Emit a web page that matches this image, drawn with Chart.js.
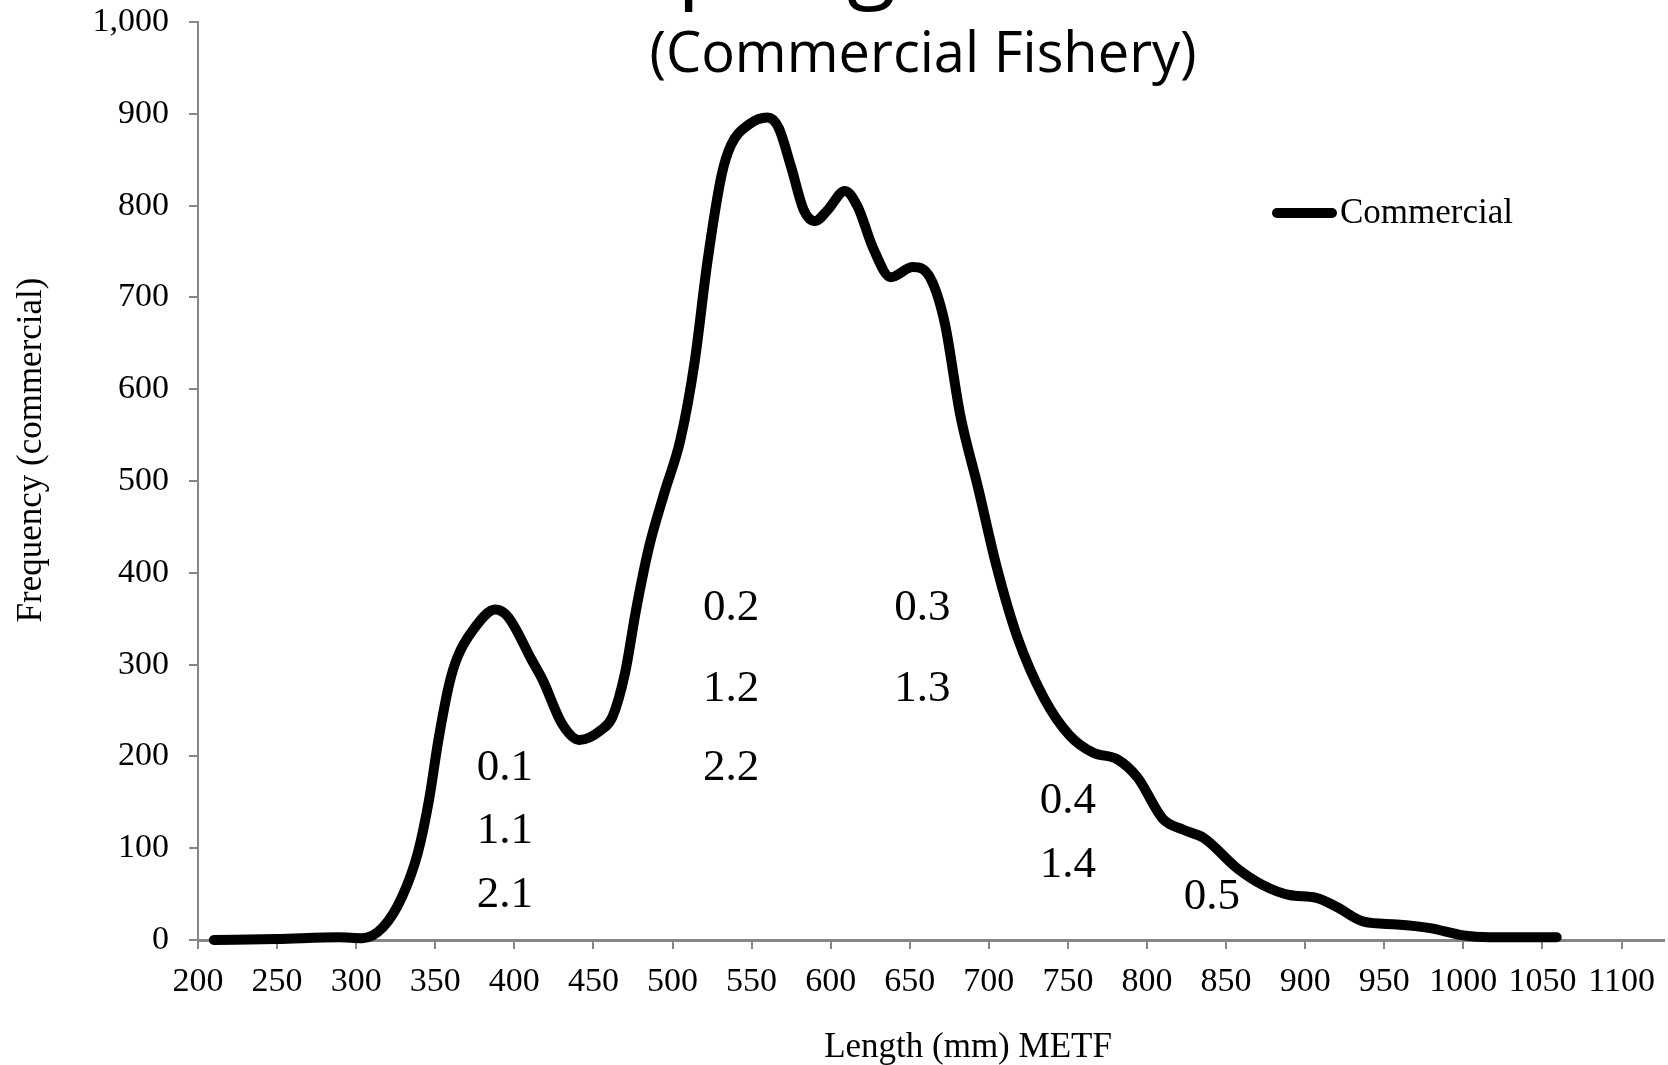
<!DOCTYPE html>
<html>
<head>
<meta charset="utf-8">
<title>Length frequency (Commercial Fishery)</title>
<script src="https://cdn.jsdelivr.net/npm/chart.js@4/dist/chart.umd.min.js"></script>
<style>
  html, body { margin: 0; padding: 0; background: #fff; overflow: hidden; }
  #wrap { width: 1668px; height: 1065px; }
</style>
</head>
<body>
<div id="wrap"><canvas id="lengthChart" width="1668" height="1065"></canvas></div>
<script>
// values
const lengthMm = [210, 250, 289, 304, 317, 329, 339, 346, 352, 359, 364, 374, 388, 396, 411, 418, 430, 441, 455, 462,
                  470, 477, 485, 495, 505, 514, 522, 531, 537, 548, 560, 567, 575, 583, 590, 598, 609, 617, 627, 638,
                  652, 663, 672, 682, 693, 705, 718, 735, 751, 766, 781, 794, 810, 823, 836, 857, 873, 890, 907, 920,
                  937, 958, 979, 1000, 1016, 1059];
const frequency = [0, 1, 3, 2, 14, 47, 95, 152, 218, 280, 308, 338, 360, 352, 305, 283, 236, 218, 229, 243,
                   291, 360, 427, 488, 545, 630, 738, 833, 866, 888, 896, 885, 842, 795, 783, 795, 816, 799, 753, 722,
                   733, 721, 673, 571, 494, 406, 330, 263, 223, 204, 197, 177, 132, 120, 111, 78, 60, 49, 46, 36,
                   20, 17, 13, 5, 3, 3];
const xTickValues = [200, 250, 300, 350, 400, 450, 500, 550, 600, 650, 700, 750, 800, 850, 900, 950, 1000, 1050, 1100];

// age class labels (length, frequency, text)
const ageLabelX = [394, 394, 394, 537, 537, 537, 658, 658, 750, 750, 841];
const ageLabelY = [187, 118, 49, 361, 273, 187, 361, 273, 151, 81, 47];
const ageLabelText = ['0.1', '1.1', '2.1', '0.2', '1.2', '2.2', '0.3', '1.3', '0.4', '1.4', '0.5'];

const seriesName = 'Commercial';
const titleLines = ['Spring Chinook', '(Commercial Fishery)'];
const xTitle = 'Length (mm) METF';
const yTitle = 'Frequency (commercial)';

const axisGray = '#868686';
const serif = size => size + 'px "Liberation Serif", "Times New Roman", serif';

// titles, legend and age labels drawn on top of the chart
const textOverlay = {
    id: 'textOverlay',
    afterDraw(chart) {
        const { ctx } = chart;
        const x = chart.scales.x;
        const y = chart.scales.y;
        ctx.save();
        ctx.fillStyle = '#000';

        // first title line runs off the top of the canvas in the original
        ctx.font = '90px "Open Sans"';
        ctx.textAlign = 'left';
        ctx.textBaseline = 'alphabetic';
        ctx.fillText(titleLines[0], 628, -10);
        ctx.font = '56px "Open Sans"';
        ctx.textAlign = 'center';
        ctx.fillText(titleLines[1], 923, 72);

        // axis titles
        ctx.font = serif(35);
        ctx.textBaseline = 'middle';
        ctx.fillText(xTitle, 968, 1048);
        ctx.save();
        ctx.translate(32, 450);
        ctx.rotate(-Math.PI / 2);
        ctx.fillText(yTitle, 0, 0);
        ctx.restore();

        // legend
        ctx.strokeStyle = '#000';
        ctx.lineWidth = 10;
        ctx.lineCap = 'round';
        ctx.beginPath();
        ctx.moveTo(1277, 213);
        ctx.lineTo(1332, 213);
        ctx.stroke();
        ctx.textAlign = 'left';
        ctx.font = serif(35);
        ctx.fillText(seriesName, 1340, 214);

        // age labels
        ctx.font = serif(45);
        ctx.textAlign = 'center';
        ageLabelText.forEach((t, i) => {
            ctx.fillText(t, x.getPixelForValue(ageLabelX[i]), y.getPixelForValue(ageLabelY[i]));
        });
        ctx.restore();
    }
};

const points = lengthMm.map((l, i) => ({ x: l, y: frequency[i] }));

new Chart(document.getElementById('lengthChart'), {
    type: 'line',
    data: {
        datasets: [{
            label: seriesName,
            data: points,
            borderColor: '#000',
            borderWidth: 10,
            pointRadius: 0,
            fill: false,
            cubicInterpolationMode: 'monotone',
            borderCapStyle: 'round',
            borderJoinStyle: 'round',
            clip: false
        }]
    },
    options: {
        responsive: false,
        animation: false,
        layout: { padding: { top: 22, right: 3, left: 0, bottom: 0 } },
        plugins: {
            legend: { display: false },
            title: { display: false },
            tooltip: { enabled: false }
        },
        scales: {
            x: {
                type: 'linear',
                min: 200,
                max: 1127,
                afterBuildTicks: s => { s.ticks = xTickValues.map(v => ({ value: v })); },
                afterFit: s => { s.height = 125; },
                grid: { drawOnChartArea: false, drawTicks: true, tickLength: 9, color: axisGray, lineWidth: 2 },
                border: { display: true, color: axisGray, width: 3 },
                ticks: {
                    font: { family: '"Liberation Serif", "Times New Roman", serif', size: 34 },
                    color: '#000',
                    padding: 13,
                    maxRotation: 0,
                    autoSkip: false,
                    callback: v => String(v)
                }
            },
            y: {
                min: 0,
                max: 1000,
                afterFit: s => {
                    s.width = 198;
                    s.paddingTop = 0;
                    s.paddingBottom = 0;
                },
                grid: { drawOnChartArea: false, drawTicks: true, tickLength: 9, color: axisGray, lineWidth: 2 },
                border: { display: true, color: axisGray, width: 2 },
                ticks: {
                    stepSize: 100,
                    font: { family: '"Liberation Serif", "Times New Roman", serif', size: 34 },
                    color: '#000',
                    padding: 20,
                    callback: v => v.toLocaleString('en-US')
                }
            }
        }
    },
    plugins: [textOverlay]
});
</script>
</body>
</html>
